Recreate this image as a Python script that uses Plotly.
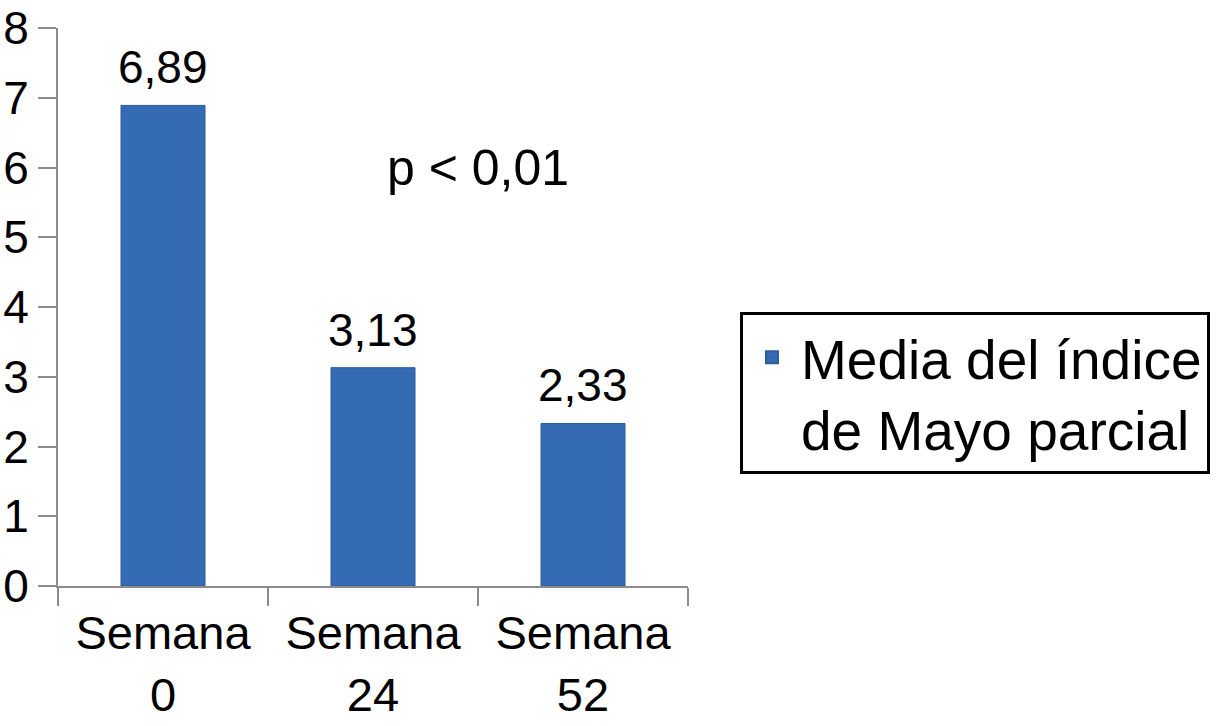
import plotly.graph_objects as go

categories = ["Semana<br>0", "Semana<br>24", "Semana<br>52"]
values = [6.89, 3.13, 2.33]
series_name = "Media del índice<br>de Mayo parcial"
y_ticks = [0, 1, 2, 3, 4, 5, 6, 7, 8]
p_text = "p < 0,01"

FONT = "Liberation Sans, Arial, Helvetica, sans-serif"

fig = go.Figure()
fig.add_trace(go.Bar(
    x=categories,
    y=values,
    name=series_name,
    width=0.4,
    marker=dict(color="#346bb2", line=dict(color="#2d5c9c", width=1)),
    showlegend=True,
))

for c, v in zip(categories, values):
    fig.add_annotation(
        x=c, y=v, xref="x", yref="y",
        text=f"{v:.2f}".replace(".", ","), showarrow=False,
        font=dict(size=46, color="black", family=FONT),
        xanchor="center", yanchor="bottom", yshift=10,
    )

fig.add_annotation(
    x=1.5, y=6.0, xref="x", yref="y",
    text=p_text, showarrow=False,
    font=dict(size=50, color="black", family=FONT),
    xanchor="center", yanchor="middle",
)

fig.update_layout(
    width=1217, height=726,
    separators=",.",
    paper_bgcolor="white",
    plot_bgcolor="white",
    margin=dict(l=58, r=529, t=28, b=140, autoexpand=False),
    font=dict(family=FONT, color="black"),
    bargap=0.6,
    legend=dict(
        x=1.0825, y=0.491, xanchor="left", yanchor="top",
        bordercolor="black", borderwidth=3,
        font=dict(size=55, color="black", family=FONT),
        itemsizing="constant",
        itemwidth=48,
        valign="top",
        tracegroupgap=0,
    ),
)

fig.update_yaxes(
    range=[0, 8],
    tickvals=y_ticks,
    showgrid=False,
    zeroline=False,
    automargin=False,
    showline=True, linecolor="#8c8c8c", linewidth=2,
    ticks="outside", ticklen=18, tickwidth=2, tickcolor="#8c8c8c",
    tickfont=dict(size=46, color="black", family=FONT),
    ticklabelstandoff=0,
)

fig.update_xaxes(
    showgrid=False,
    automargin=False,
    showline=True, linecolor="#8c8c8c", linewidth=2,
    ticks="outside", ticklen=18, tickwidth=2, tickcolor="#8c8c8c",
    tickson="boundaries",
    tickfont=dict(size=47, color="black", family=FONT),
    ticklabelstandoff=5,
)

fig.write_html(
    "out.html",
    config={"displayModeBar": False},
    post_script="document.body.style.margin='0';document.body.style.padding='0';",
)
